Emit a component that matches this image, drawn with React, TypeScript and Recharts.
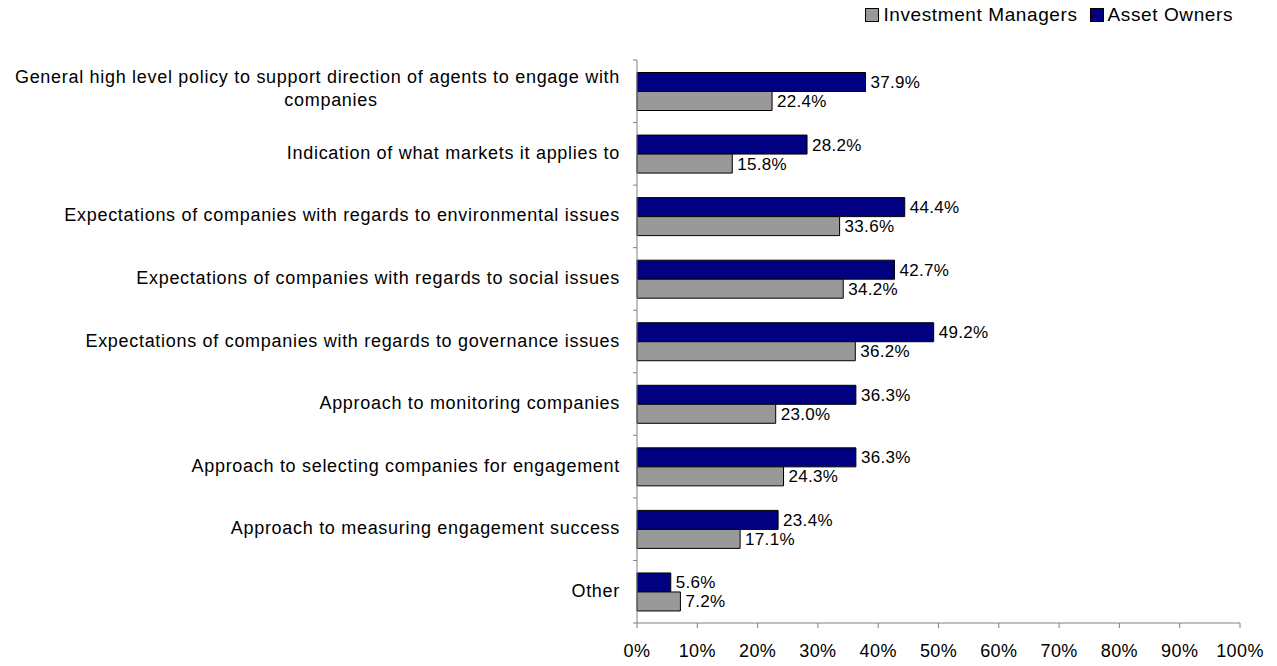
import { BarChart, Bar, XAxis, YAxis, LabelList } from 'recharts';

// Survey categories, top to bottom ("|" marks a line break)
const categories = [
  'General high level policy to support direction of agents to engage with|companies',
  'Indication of what markets it applies to',
  'Expectations of companies with regards to environmental issues',
  'Expectations of companies with regards to social issues',
  'Expectations of companies with regards to governance issues',
  'Approach to monitoring companies',
  'Approach to selecting companies for engagement',
  'Approach to measuring engagement success',
  'Other',
];

const assetOwners = [37.9, 28.2, 44.4, 42.7, 49.2, 36.3, 36.3, 23.4, 5.6];
const investmentManagers = [22.4, 15.8, 33.6, 34.2, 36.2, 23.0, 24.3, 17.1, 7.2];

const xTicks = [0, 10, 20, 30, 40, 50, 60, 70, 80, 90, 100];

const COLORS = {
  owners: '#000080',
  managers: '#999999',
  axis: '#808080',
};

const WIDTH = 1277;
const HEIGHT = 666;
const MARGIN = { top: 60, right: 37, left: 0, bottom: 0 };
const X_AXIS_HEIGHT = 43;
const Y_AXIS_WIDTH = 637;

const data = categories.map((name, i) => ({
  name,
  'Asset Owners': assetOwners[i],
  'Investment Managers': investmentManagers[i],
}));

const FONT = '"Liberation Sans", Arial, sans-serif';
const SPACING = 0.7;

/**
 * Category tick: right aligned text, two-line labels centred like Excel,
 * plus a small tick mark at the category boundary
 */
const CategoryTick = ({ x, y, payload, index }: any) => {
  const step = (HEIGHT - MARGIN.top - MARGIN.bottom - X_AXIS_HEIGHT) / categories.length;
  const lines = String(payload.value).split('|');
  const tx = x - 17;
  const textProps = { fontSize: 18, fill: '#000', fontFamily: FONT, letterSpacing: SPACING };
  return (
    <g>
      <line x1={x - 4} x2={x} y1={y - step / 2} y2={y - step / 2} stroke={COLORS.axis} />
      {lines.length === 1 ? (
        <text x={tx} y={y} dy={5} textAnchor="end" {...textProps}>
          {lines[0]}
        </text>
      ) : (
        <>
          <text x={tx} y={y} dy={-8} textAnchor="end" {...textProps}>
            {lines[0]}
          </text>
          <text x={tx - 289} y={y} dy={15} textAnchor="middle" {...textProps}>
            {lines[1]}
          </text>
        </>
      )}
      {index === categories.length - 1 && (
        <line x1={x - 4} x2={x} y1={y + step / 2} y2={y + step / 2} stroke={COLORS.axis} />
      )}
    </g>
  );
};

const legendItems = [
  { name: 'Investment Managers', color: COLORS.managers },
  { name: 'Asset Owners', color: COLORS.owners },
];

const ChartLegend = () => (
  <div
    style={{
      position: 'absolute',
      top: 4,
      right: 44,
      display: 'flex',
      gap: 12,
      fontFamily: FONT,
      fontSize: 19,
      letterSpacing: 0.6,
      color: '#000',
      lineHeight: '22px',
    }}
  >
    {legendItems.map((it) => (
      <div key={it.name} style={{ display: 'flex', alignItems: 'center', gap: 4 }}>
        <div
          style={{
            width: 14,
            height: 14,
            boxSizing: 'border-box',
            backgroundColor: it.color,
            border: '1px solid #000',
          }}
        />
        <span>{it.name}</span>
      </div>
    ))}
  </div>
);

const pct = (v: any) => `${Number(v).toFixed(1)}%`;

export default function App() {
  const labelProps = { fill: '#000', fontSize: 17, fontFamily: FONT, letterSpacing: 0.3 };
  return (
    <div style={{ position: 'absolute', left: 0, top: 0, width: WIDTH, height: HEIGHT, background: '#fff' }}>
      <ChartLegend />
      <BarChart
        layout="vertical"
        width={WIDTH}
        height={HEIGHT}
        data={data}
        margin={MARGIN}
        barCategoryGap="20%"
        barGap={0}
      >
        <XAxis
          type="number"
          domain={[0, 100]}
          ticks={xTicks}
          tickFormatter={(v) => `${v}%`}
          height={X_AXIS_HEIGHT}
          stroke={COLORS.axis}
          tickSize={5}
          tick={{ fill: '#000', fontSize: 18, fontFamily: FONT, letterSpacing: 0.4 }}
          tickMargin={16}
        />
        <YAxis
          type="category"
          dataKey="name"
          width={Y_AXIS_WIDTH}
          stroke={COLORS.axis}
          tickLine={false}
          tickSize={0}
          tickMargin={0}
          tick={<CategoryTick />}
          interval={0}
        />
        <Bar dataKey="Asset Owners" fill={COLORS.owners} stroke="#000" strokeWidth={1} isAnimationActive={false}>
          <LabelList dataKey="Asset Owners" position="right" offset={5} formatter={pct} {...labelProps} />
        </Bar>
        <Bar dataKey="Investment Managers" fill={COLORS.managers} stroke="#000" strokeWidth={1} isAnimationActive={false}>
          <LabelList dataKey="Investment Managers" position="right" offset={5} formatter={pct} {...labelProps} />
        </Bar>
      </BarChart>
    </div>
  );
}
